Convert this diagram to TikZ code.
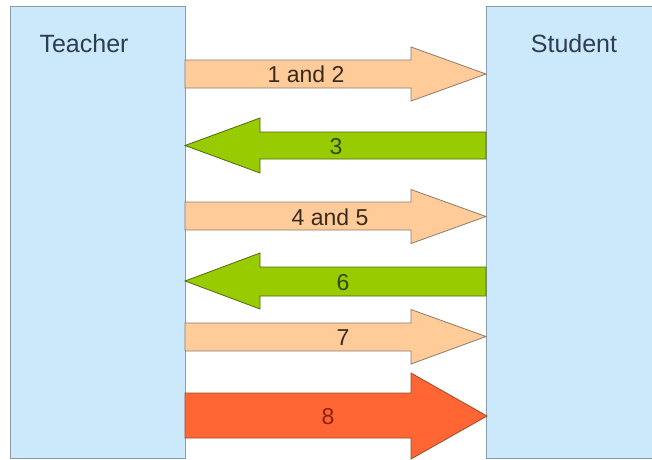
\documentclass[tikz,border=0pt]{standalone}
\usepackage{fontspec}
\setmainfont{Liberation Sans}
\begin{document}
\begin{tikzpicture}[x=1pt,y=-1pt,
  box/.style={draw=boxline,fill=boxfill,line width=0.8pt},
  peach/.style={draw=peachline,fill=peachfill,line width=0.8pt,line join=miter},
  green/.style={draw=greenline,fill=greenfill,line width=0.8pt,line join=miter},
  red/.style={draw=redline,fill=redfill,line width=0.8pt,line join=miter},
  title/.style={font=\fontsize{25}{25}\selectfont,text=titletext,inner sep=0pt},
  lbl/.style={font=\fontsize{23}{23}\selectfont,text=lbltext,inner sep=0pt}]
\definecolor{boxfill}{HTML}{CCE9FB}
\definecolor{boxline}{HTML}{8A9AA6}
\definecolor{peachfill}{HTML}{FFCC99}
\definecolor{peachline}{HTML}{8A7A6C}
\definecolor{greenfill}{HTML}{99CC00}
\definecolor{greenline}{HTML}{4F6A10}
\definecolor{redfill}{HTML}{FF6633}
\definecolor{redline}{HTML}{9A4A2A}
\definecolor{titletext}{HTML}{2E3E4C}
\definecolor{lbltext}{HTML}{3A2A1E}
\definecolor{greentext}{HTML}{2E4A0E}
\definecolor{redtext}{HTML}{8A2410}
\useasboundingbox (0,0) rectangle (652,459);
\clip (0,0) rectangle (652,459);
\fill[white] (0,0) rectangle (652,459);
% boxes
\draw[box] (10.5,6) rectangle (185,458.3);
\draw[box] (486,6) rectangle (660,458.3);
\node[title,anchor=base] (teacher) at (84,52) {Teacher};
\node[title,anchor=base] (student) at (574,52) {Student};
% arrow 1 and 2
\draw[peach] (185,60) -- (411,60) -- (411,47) -- (486,74) -- (411,101) -- (411,88) -- (185,88) -- cycle;
\node[lbl,anchor=base] (l1) at (306,82) {1 and 2};
% arrow 3
\draw[green] (486,132) -- (260,132) -- (260,118) -- (185,145.5) -- (260,173) -- (260,159) -- (486,159) -- cycle;
\node[lbl,anchor=base,text=greentext] (l3) at (336,154) {3};
% arrow 4 and 5
\draw[peach] (185,202) -- (411,202) -- (411,189.5) -- (486,216.5) -- (411,243.5) -- (411,230) -- (185,230) -- cycle;
\node[lbl,anchor=base] (l4) at (330,225) {4 and 5};
% arrow 6
\draw[green] (486,267) -- (260,267) -- (260,253) -- (185,281) -- (260,309) -- (260,296) -- (486,296) -- cycle;
\node[lbl,anchor=base,text=greentext] (l6) at (343,290) {6};
% arrow 7
\draw[peach] (185,323) -- (411,323) -- (411,309.5) -- (486,336.5) -- (411,364) -- (411,351) -- (185,351) -- cycle;
\node[lbl,anchor=base] (l7) at (343,345) {7};
% arrow 8
\draw[red] (185,393) -- (411,393) -- (411,373) -- (487,416) -- (411,459) -- (411,438) -- (185,438) -- cycle;
\node[lbl,anchor=base,text=redtext] (l8) at (328,424.5) {8};
\end{tikzpicture}
\end{document}
